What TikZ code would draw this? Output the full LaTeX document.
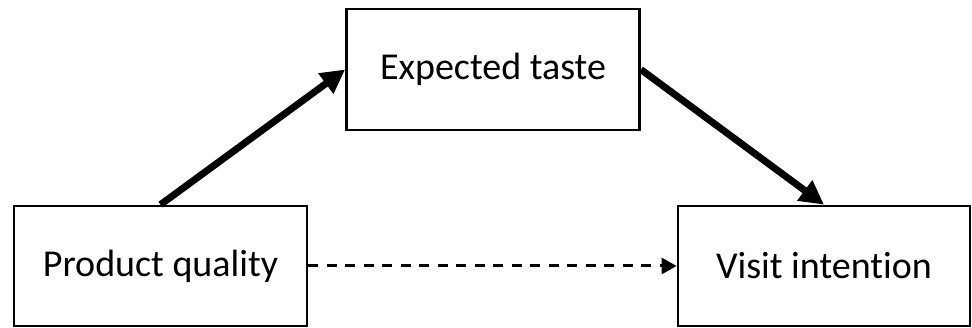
\documentclass[tikz,border=0pt]{standalone}
\usepackage{fontspec}
\setmainfont{Carlito}[Ligatures=NoCommon,RawFeature={-liga}]
\usetikzlibrary{arrows.meta}
\begin{document}
\begin{tikzpicture}[x=1pt,y=-1pt,
  box/.style={draw=black, line width=2.7pt, fill=white, minimum width=293pt, minimum height=120pt, inner sep=0pt, font=\fontsize{38}{44}\selectfont},
  boldarrow/.style={line width=7pt, -{Triangle[length=24pt,width=24pt]}},
  dasharrow/.style={line width=3pt, dash pattern=on 10pt off 8.5pt, -{Triangle[length=15pt,width=16pt]}}]
\useasboundingbox (0,0) rectangle (972,328);
\node[box] (pq) at (160.5,266) {Product quality};
\node[box, minimum height=121pt] (et) at (493,69.5) {Expected taste};
\node[box, minimum width=292pt] (vi) at (824,266) {Visit intention};
\draw[boldarrow] (pq.north) -- (et.west);
\draw[boldarrow] (et.east) -- (vi.north);
\draw[dasharrow] (pq.east) -- (vi.west);
\end{tikzpicture}
\end{document}
